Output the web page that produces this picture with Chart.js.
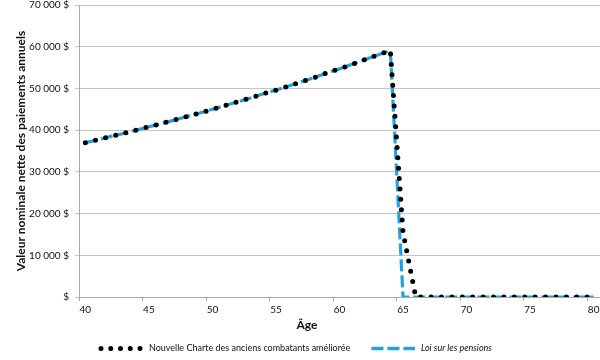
<!DOCTYPE html>
<html>
<head>
<meta charset="utf-8">
<script src="https://cdn.jsdelivr.net/npm/chart.js@4/dist/chart.umd.min.js"></script>
<style>
  html, body { margin: 0; padding: 0; background: #fff; }
  #wrap { position: relative; width: 600px; height: 360px; }
</style>
</head>
<body>
<div id="wrap"><canvas id="c" width="600" height="360"></canvas></div>
<script>
// Ages (categories)
const ages = ['40','41','42','43','44','45','46','47','48','49','50','51','52','53','54','55','56','57','58','59','60','61','62','63','64','65','66','67','68','69','70','71','72','73','74','75','76','77','78','79','80'];
// Nouvelle Charte des anciens combatants améliorée
const ncacValues = [37000,37700,38500,39200,40000,40800,41600,42400,43300,44100,45000,45900,46800,47700,48700,49600,50600,51600,52600,53700,54700,55800,56900,58000,59100,15500,0,0,0,0,0,0,0,0,0,0,0,0,0,0,0];
// Loi sur les pensions
const lpValues = [37000,37700,38500,39200,40000,40800,41600,42400,43300,44100,45000,45900,46800,47700,48700,49600,50600,51600,52600,53700,54700,55800,56900,58000,59100,0,0,0,0,0,0,0,0,0,0,0,0,0,0,0,0];
const yTickLabels = ['$','10 000 $','20 000 $','30 000 $','40 000 $','50 000 $','60 000 $','70 000 $'];
const seriesNames = ['Nouvelle Charte des anciens combatants améliorée','Loi sur les pensions'];
const xTitle = 'Âge';
const yTitle = 'Valeur nominale nette des paiements annuels';

const FONT = 'Lato';
const BLUE = '#23a3dd';
const GRID = '#c4c4c4';

const overlay = {
  id: 'overlay',
  afterDraw(chart) {
    const ctx = chart.ctx;
    ctx.save();
    // x title
    ctx.fillStyle = '#111';
    ctx.font = 'bold 12px ' + FONT;
    ctx.textAlign = 'center';
    ctx.textBaseline = 'alphabetic';
    ctx.fillText(xTitle, 307, 329);
    // legend
    const ly = 348.5;
    ctx.lineCap = 'round';
    ctx.strokeStyle = '#000';
    ctx.lineWidth = 5;
    ctx.setLineDash([0, 9.75]);
    ctx.beginPath(); ctx.moveTo(101, ly); ctx.lineTo(141, ly); ctx.stroke();
    ctx.lineCap = 'butt';
    ctx.strokeStyle = BLUE;
    ctx.lineWidth = 3.5;
    ctx.setLineDash([12, 4]);
    ctx.beginPath(); ctx.moveTo(371.5, ly); ctx.lineTo(415, ly); ctx.stroke();
    ctx.setLineDash([]);
    ctx.fillStyle = '#111';
    ctx.textAlign = 'left';
    ctx.textBaseline = 'middle';
    ctx.font = '9px ' + FONT;
    ctx.fillText(seriesNames[0], 149, ly);
    ctx.font = 'italic 9px ' + FONT;
    ctx.fillText(seriesNames[1], 421, ly);
    ctx.restore();
  }
};

new Chart(document.getElementById('c'), {
  type: 'line',
  data: {
    labels: ages,
    datasets: [
      {
        label: seriesNames[0],
        data: ncacValues,
        borderColor: '#000',
        borderWidth: 5,
        borderCapStyle: 'round',
        borderDash: [0, 10.4],
        pointRadius: 0,
        fill: false,
        tension: 0,
        order: 0
      },
      {
        label: seriesNames[1],
        data: lpValues,
        borderColor: BLUE,
        borderWidth: 3.2,
        borderDash: [12, 4],
        pointRadius: 0,
        fill: false,
        tension: 0,
        order: 1
      }
    ]
  },
  options: {
    responsive: false,
    animation: false,
    devicePixelRatio: 1,
    layout: { padding: { top: 5, right: 0, left: 0, bottom: 0 } },
    plugins: { legend: { display: false }, tooltip: { enabled: false }, title: { display: false } },
    scales: {
      x: {
        type: 'category',
        offset: true,
        grid: {
          offset: true,
          drawOnChartArea: false,
          drawTicks: true,
          tickLength: 4,
          color: (c) => (c.index % 5 === 0 ? '#a8a8a8' : 'rgba(0,0,0,0)')
        },
        border: { display: true, color: '#a8a8a8', width: 1 },
        ticks: {
          autoSkip: false,
          maxRotation: 0,
          minRotation: 0,
          padding: 3,
          color: '#111',
          font: { family: FONT, size: 10 },
          callback: (v, i) => (i % 5 === 0 ? ages[i] : '')
        },
        afterFit: (s) => { s.height = 63; s.paddingLeft = 0; s.paddingRight = 0; }
      },
      y: {
        min: 0,
        max: 70000,
        ticks: {
          stepSize: 10000,
          padding: 6,
          color: '#111',
          font: { family: FONT, size: 10 },
          callback: (v, i) => yTickLabels[i]
        },
        grid: { color: GRID, lineWidth: 1, drawTicks: true, tickLength: 4 },
        border: { display: true, color: '#a8a8a8', width: 1 },
        title: {
          display: true,
          text: yTitle,
          color: '#111',
          font: { family: FONT, size: 12, weight: 'bold' },
          padding: { top: 14, bottom: 0 }
        },
        afterFit: (s) => { s.width = 79; s.paddingTop = 0; s.paddingBottom = 0; }
      }
    }
  },
  plugins: [overlay]
});
</script>
</body>
</html>
